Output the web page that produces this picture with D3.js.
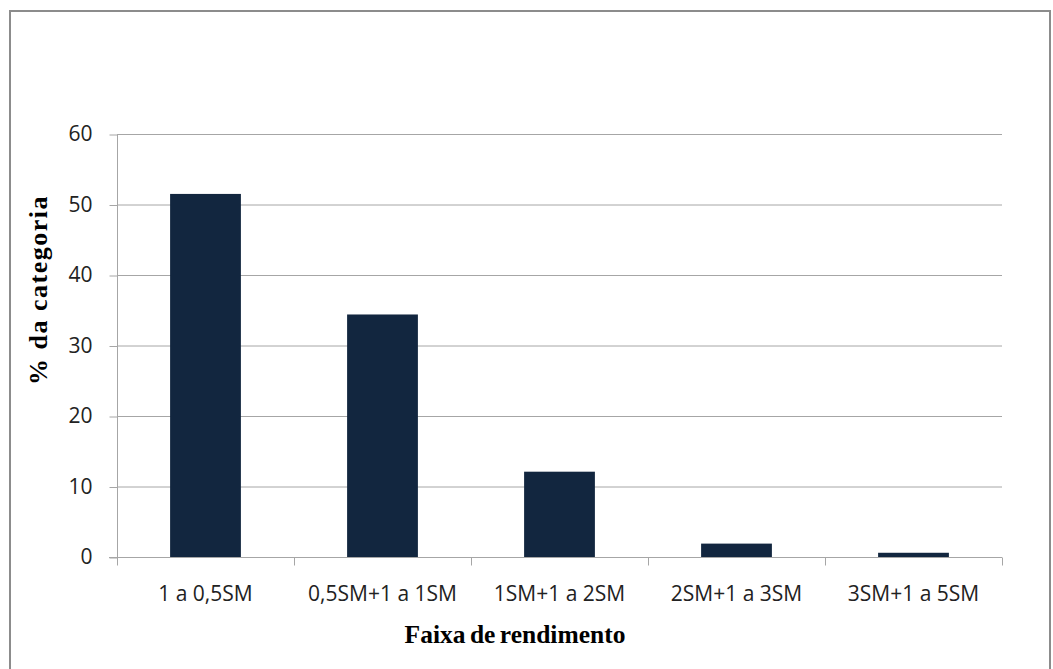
<!DOCTYPE html>
<html><head><meta charset="utf-8">
<script src="https://cdn.jsdelivr.net/npm/d3@7"></script>
<style>body{margin:0;background:#fff}svg{display:block}</style>
</head><body>
<svg id="c" width="1053" height="669"></svg>
<script>
const categories = ["1 a 0,5SM","0,5SM+1 a 1SM","1SM+1 a 2SM","2SM+1 a 3SM","3SM+1 a 5SM"];
const values = [51.5, 34.4, 12.1, 1.9, 0.6];
const yTicks = [0,10,20,30,40,50,60];
const yTitle = "% da categoria";
const xTitle = "Faixa de rendimento";

const svg = d3.select("#c");
svg.append("rect").attr("x",10).attr("y",11).attr("width",1040).attr("height",660)
  .attr("fill","#fff").attr("stroke","#8c8c8c").attr("stroke-width",2);

const L=117, R=1002, T=134, B=557;
const x = d3.scaleBand().domain(categories).range([L,R]).paddingInner(0.6).paddingOuter(0.3);
const y = d3.scaleLinear().domain([0,60]).range([B,T]);
const tickFont = "'Open Sans', sans-serif";

// gridlines
svg.append("g").selectAll("line").data(yTicks.filter(d=>d>0)).join("line")
  .attr("x1",L).attr("x2",R).attr("y1",d=>y(d)+0.5).attr("y2",d=>y(d)+0.5)
  .attr("stroke","#a6a6a6").attr("stroke-width",1);

// bars
svg.append("g").selectAll("rect").data(values).join("rect")
  .attr("x",(d,i)=>x(categories[i])).attr("width",x.bandwidth())
  .attr("y",d=>y(d)).attr("height",d=>B-y(d))
  .attr("fill","#12263f");

// y axis
const ya = svg.append("g").attr("transform",`translate(${L+0.5},0)`)
  .call(d3.axisLeft(y).tickValues(yTicks).tickSize(8).tickPadding(17));
ya.select(".domain").attr("stroke","#a6a6a6").attr("d",`M0,${T}V${B}`);
ya.selectAll(".tick line").attr("stroke","#a6a6a6").attr("transform","translate(0,0.5)");
ya.selectAll("text").attr("font-family",tickFont).attr("font-size",21).attr("fill","#222");

// x axis
const xb = d3.scaleLinear().domain([0,5]).range([L,R]);
const xa = svg.append("g").attr("transform",`translate(0,${B+0.5})`);
xa.append("line").attr("x1",L-8).attr("x2",R).attr("stroke","#a6a6a6");
xa.selectAll("line.t").data(d3.range(6)).join("line").attr("class","t")
  .attr("x1",d=>Math.round(xb(d))+0.5).attr("x2",d=>Math.round(xb(d))+0.5).attr("y1",0).attr("y2",8)
  .attr("stroke","#a6a6a6");
xa.selectAll("text").data(categories).join("text")
  .attr("x",d=>x(d)+x.bandwidth()/2).attr("y",43)
  .attr("text-anchor","middle").attr("font-family",tickFont).attr("font-size",21).attr("fill","#222")
  .text(d=>d);

svg.append("text").attr("transform","translate(47,290) rotate(-90)").attr("text-anchor","middle")
  .attr("font-family","'Liberation Serif', serif").attr("font-weight","bold").attr("font-size",26)
  .attr("letter-spacing",1.5).text(yTitle);
svg.append("text").attr("x",515).attr("y",643).attr("text-anchor","middle")
  .attr("font-family","'Liberation Serif', serif").attr("font-weight","bold").attr("font-size",25.5)
  .attr("word-spacing",-2).text(xTitle);
</script>
</body></html>
